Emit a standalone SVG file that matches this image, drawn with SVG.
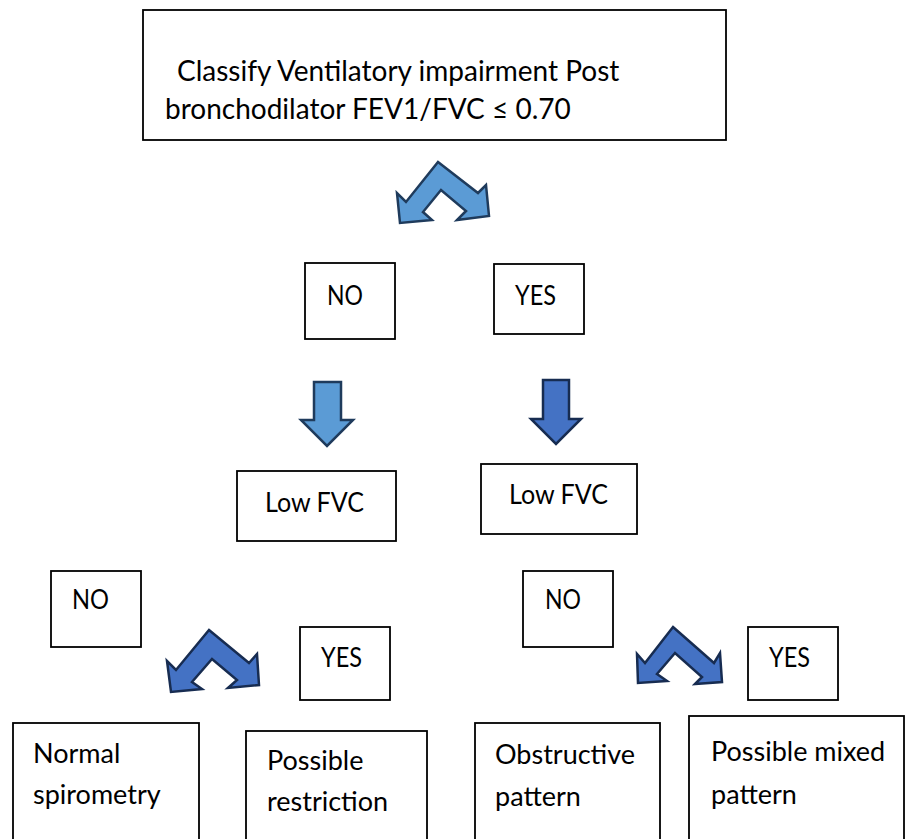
<svg xmlns="http://www.w3.org/2000/svg" width="907" height="839" viewBox="0 0 907 839">
<style>
.box{fill:#fff;stroke:#000;stroke-width:1.8}
.t{font-family:Lato,"Open Sans","Liberation Sans",sans-serif;font-size:27px;fill:#000}
.h{font-size:28px}
.a1{fill:#5B9BD5;stroke:#1F3B5C;stroke-width:2.5;stroke-linejoin:miter}
.a2{fill:#4472C4;stroke:#172C51;stroke-width:2.5;stroke-linejoin:miter}
</style>
<rect width="907" height="839" fill="#fff"/>
<g id="connectors">
<polygon class="a1" points="438,162 478,193 486,185 489,216 457,220 466,211 441,190 423,212 432,220 400,223 397,193 406,202"/>
<polygon class="a1" points="314,382 341,382 341,420 353,420 327,446 301,420 314,420"/>
<polygon class="a2" points="543,380 569,380 569,419 581,419 556,444 531,419 543,419"/>
<polygon class="a2" points="209,630 249,663 257,654 259,685 228,688 237,680 212,659 192,682 202,689 171,692 167,661 176,670"/>
<polygon class="a2" points="673,627 714,663 720,653 722,682 695,684 702,677 675,653 657,674 667,681 638,683 637,654 645,663"/>
</g>
<g id="n-start">
<rect class="box" x="143" y="10" width="583" height="130"/>
<text class="t h" x="177" y="81">Classify Ventilatory impairment Post</text>
<text class="t h" x="165" y="119">bronchodilator FEV1/FVC ≤ 0.70</text>
</g>
<g id="n-no1">
<rect class="box" x="305" y="263" width="90" height="76"/>
<text class="t" x="327" y="305" textLength="36" lengthAdjust="spacingAndGlyphs">NO</text>
</g>
<g id="n-yes1">
<rect class="box" x="494" y="264" width="90" height="70"/>
<text class="t" x="515" y="305" textLength="41" lengthAdjust="spacingAndGlyphs">YES</text>
</g>
<g id="n-lowfvc1">
<rect class="box" x="237" y="471" width="159" height="70"/>
<text class="t" x="265" y="512" textLength="99" lengthAdjust="spacingAndGlyphs">Low FVC</text>
</g>
<g id="n-lowfvc2">
<rect class="box" x="481" y="464" width="156" height="70"/>
<text class="t" x="509" y="504" textLength="99" lengthAdjust="spacingAndGlyphs">Low FVC</text>
</g>
<g id="n-no2">
<rect class="box" x="51" y="571" width="90" height="76"/>
<text class="t" x="72" y="609" textLength="37" lengthAdjust="spacingAndGlyphs">NO</text>
</g>
<g id="n-yes2">
<rect class="box" x="300" y="627" width="90" height="73"/>
<text class="t" x="321" y="667" textLength="41" lengthAdjust="spacingAndGlyphs">YES</text>
</g>
<g id="n-no3">
<rect class="box" x="523" y="571" width="90" height="76"/>
<text class="t" x="545" y="609" textLength="36" lengthAdjust="spacingAndGlyphs">NO</text>
</g>
<g id="n-yes3">
<rect class="box" x="748" y="627" width="90" height="73"/>
<text class="t" x="769" y="667" textLength="41" lengthAdjust="spacingAndGlyphs">YES</text>
</g>
<g id="n-normal">
<rect class="box" x="13" y="723" width="186" height="130"/>
<text class="t" x="33" y="763">Normal</text>
<text class="t" x="33" y="804">spirometry</text>
</g>
<g id="n-restriction">
<rect class="box" x="246" y="731" width="181" height="130"/>
<text class="t" x="267" y="770">Possible</text>
<text class="t" x="267" y="811">restriction</text>
</g>
<g id="n-obstructive">
<rect class="box" x="475" y="723" width="185" height="130"/>
<text class="t" x="495" y="764">Obstructive</text>
<text class="t" x="495" y="806">pattern</text>
</g>
<g id="n-mixed">
<rect class="box" x="689" y="716" width="215" height="140"/>
<text class="t" x="711" y="761">Possible mixed</text>
<text class="t" x="711" y="804">pattern</text>
</g>
</svg>
